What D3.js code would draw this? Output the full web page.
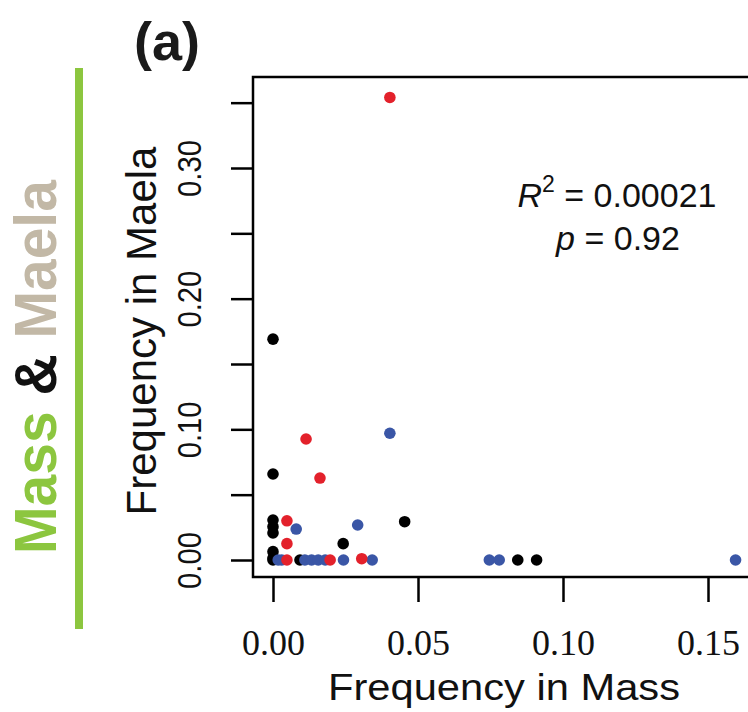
<!DOCTYPE html>
<html lang="en">
<head>
  <meta charset="UTF-8">
  <title>Mass & Maela</title>
  <script src="https://cdn.jsdelivr.net/npm/d3@7"></script>
  <style>
    body { margin: 0; background: #fff; }
    svg { display: block; }
  </style>
</head>
<body>
  <svg id="chart" width="748" height="712"></svg>
  <script>
    // frequencies: x = Mass, y = Maela
    const blackMass  = [0, 0, 0, 0, 0, 0, 0, 0, 0.0093, 0.0242, 0.0454, 0.0844, 0.0909];
    const blackMaela = [0.169, 0.0658, 0.0306, 0.0255, 0.0207, 0.0064, 0.0015, 0, 0, 0.0125, 0.0293, 0, 0];
    const blueMass   = [0.0403, 0.0080, 0.0292, 0.0018, 0.0030, 0.0110, 0.0133, 0.0156, 0.0180, 0.0243, 0.0342, 0.0746, 0.0780, 0.1595];
    const blueMaela  = [0.097, 0.0237, 0.0268, 0, 0, 0, 0, 0, 0, 0, 0, 0, 0, 0];
    const redMass    = [0.0403, 0.0114, 0.0162, 0.0048, 0.0048, 0.0048, 0.0197, 0.0306];
    const redMaela   = [0.354, 0.0926, 0.0627, 0.0300, 0.0125, 0, 0, 0.001];

    const xTicks = [0, 0.05, 0.10, 0.15];
    const yTicks = [0, 0.05, 0.10, 0.15, 0.20, 0.25, 0.30, 0.35];
    const yLabelled = [0, 0.10, 0.20, 0.30];

    const svg = d3.select("#chart");

    const boxLeft = 253, boxTop = 77, boxBottom = 577, boxRight = 800;

    const x = d3.scaleLinear().domain([0, 0.15]).range([273, 708]);
    const y = d3.scaleLinear().domain([0, 0.30]).range([560, 168]);

    // side label and green bar
    svg.append("line")
      .attr("x1", 79).attr("x2", 79).attr("y1", 68).attr("y2", 629)
      .attr("stroke", "#8cc63f").attr("stroke-width", 8);

    const side = svg.append("text")
      .attr("transform", "translate(56,367) rotate(-90) scale(1,1.05)")
      .attr("text-anchor", "middle")
      .style("font-family", "Liberation Sans, Arial, sans-serif")
      .style("font-weight", "bold")
      .style("font-size", "57px");
    side.append("tspan").attr("fill", "#8cc63f").text("Mass");
    side.append("tspan").attr("fill", "#111").text(" & ");
    side.append("tspan").attr("fill", "#c2b8a6").text("Maela");

    svg.append("text")
      .attr("x", 134).attr("y", 60)
      .style("font-family", "Liberation Sans, Arial, sans-serif")
      .style("font-weight", "bold")
      .style("font-size", "54px")
      .attr("fill", "#1a1a1a")
      .text("(a)");

    // points
    const groups = [
      { mass: blackMass, maela: blackMaela, color: "#000000" },
      { mass: blueMass,  maela: blueMaela,  color: "#3a56a6" },
      { mass: redMass,   maela: redMaela,   color: "#e3212b" }
    ];

    groups.forEach(g => {
      svg.append("g").selectAll("circle")
        .data(g.mass.map((m, i) => [m, g.maela[i]]))
        .join("circle")
          .attr("cx", d => x(d[0]))
          .attr("cy", d => y(d[1]))
          .attr("r", 5.8)
          .attr("fill", g.color);
    });

    // frame
    svg.append("rect")
      .attr("x", boxLeft).attr("y", boxTop)
      .attr("width", boxRight - boxLeft).attr("height", boxBottom - boxTop)
      .attr("fill", "none").attr("stroke", "#000").attr("stroke-width", 2.5);

    // x axis
    const xAxis = svg.append("g")
      .attr("transform", `translate(0,${boxBottom})`)
      .call(d3.axisBottom(x).tickValues(xTicks).tickSize(25).tickPadding(27)
        .tickFormat(d3.format(".2f")));
    xAxis.select(".domain").remove();
    xAxis.selectAll("line").attr("stroke-width", 2.5);
    xAxis.selectAll("text")
      .style("font-family", "Liberation Serif, Times New Roman, serif")
      .style("font-size", "36px")
      .attr("fill", "#111");

    // y axis
    const yAxis = svg.append("g")
      .attr("transform", `translate(${boxLeft},0)`)
      .call(d3.axisLeft(y).tickValues(yTicks).tickSize(22)
        .tickFormat(d => yLabelled.includes(d) ? d3.format(".2f")(d) : ""));
    yAxis.select(".domain").remove();
    yAxis.selectAll("line").attr("stroke-width", 2.5);
    yAxis.selectAll("text")
      .attr("x", null).attr("dy", null)
      .attr("text-anchor", "middle")
      .attr("transform", "translate(-52,0) rotate(-90) scale(0.86,1)")
      .style("font-family", "Liberation Sans, Arial, sans-serif")
      .style("font-size", "34px")
      .attr("fill", "#111");

    // axis titles
    svg.append("text")
      .attr("x", 504).attr("y", 700)
      .attr("text-anchor", "middle")
      .attr("textLength", 352)
      .attr("lengthAdjust", "spacingAndGlyphs")
      .style("font-family", "Liberation Sans, Arial, sans-serif")
      .style("font-size", "37px")
      .attr("fill", "#111")
      .text("Frequency in Mass");

    svg.append("text")
      .attr("transform", "translate(156,331) rotate(-90)")
      .attr("text-anchor", "middle")
      .style("font-family", "Liberation Sans, Arial, sans-serif")
      .style("font-size", "42px")
      .attr("fill", "#111")
      .text("Frequency in Maela");

    // statistics
    const stat = svg.append("g")
      .style("font-family", "Liberation Sans, Arial, sans-serif")
      .style("font-size", "34px")
      .attr("fill", "#111")
      .attr("text-anchor", "middle");
    const r2 = stat.append("text").attr("x", 617).attr("y", 207);
    r2.append("tspan").style("font-style", "italic").text("R");
    r2.append("tspan").attr("dy", -15).style("font-size", "23px").text("2");
    r2.append("tspan").attr("dy", 15).text(" = 0.00021");
    const pv = stat.append("text").attr("x", 618).attr("y", 250);
    pv.append("tspan").style("font-style", "italic").text("p");
    pv.append("tspan").text(" = 0.92");
  </script>
</body>
</html>
